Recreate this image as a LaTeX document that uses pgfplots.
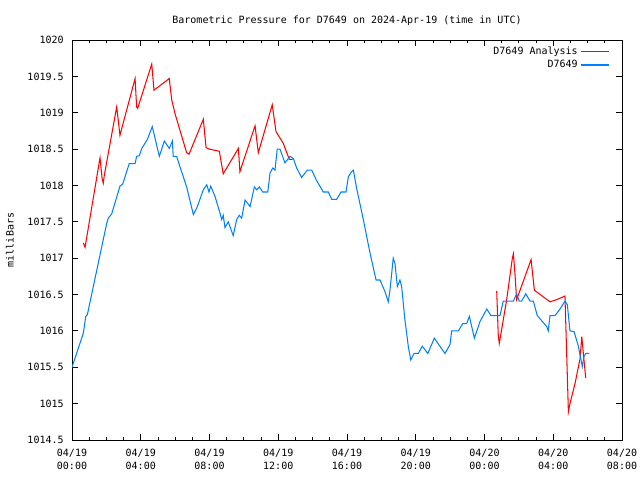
\documentclass[border=0pt]{standalone}
\usepackage{fontspec}
\setmainfont{DejaVu Sans Mono}
\usepackage{pgfplots}
\pgfplotsset{compat=1.18}
\definecolor{gpred}{RGB}{255,0,0}
\definecolor{gpblue}{RGB}{0,128,255}
\begin{document}
\begin{tikzpicture}
\begin{axis}[
  scale only axis,
  width=396pt, height=288pt,
  xmin=0, xmax=32, ymin=1014.5, ymax=1020,
  xtick={0,4,...,32},
  xticklabels={04/19\\00:00,04/19\\04:00,04/19\\08:00,04/19\\12:00,04/19\\16:00,04/19\\20:00,04/20\\00:00,04/20\\04:00,04/20\\08:00},
  minor x tick num=3,
  ytick={1014.5,1015,1015.5,1016,1016.5,1017,1017.5,1018,1018.5,1019,1019.5,1020},
  yticklabels={1014.5,1015,1015.5,1016,1016.5,1017,1017.5,1018,1018.5,1019,1019.5,1020},
  /pgf/number format/assume math mode=true,
  tick align=inside,
  major tick length=4.3pt,
  minor tick length=2.2pt,
  tick style={black, line width=0.6pt},
  axis line style={line width=0.7pt},
  every tick label/.append style={font=\fontsize{7.2}{9.7}\selectfont},
  xticklabel style={align=center, yshift=-3pt},
  yticklabel style={xshift=-2.5pt},
  every axis title shift=0pt,
  title={Barometric Pressure for D7649 on 2024-Apr-19 (time in UTC)},
  title style={font=\fontsize{7.2}{9}\selectfont, at={(axis description cs:0.5,1.04)}, anchor=base, yshift=0pt},
  ylabel={milliBars},
  ylabel style={font=\fontsize{7.2}{9}\selectfont, at={(axis description cs:-0.113,0.5)}, anchor=center},
  legend style={draw=none, fill=none, at={(axis description cs:0.985,0.997)}, anchor=north east,
    font=\fontsize{7.2}{9}\selectfont, row sep=-1.5pt},
  legend cell align=right,
  legend plot pos=right,
  unbounded coords=jump,
]
\addplot[color=gpred, line width=0.75pt,
  legend image code/.code={\draw[gpred, line width=0.75pt] (0pt,0pt) -- (20pt,0pt);}] coordinates {
(0.66,1017.21) (0.76,1017.15) (1.63,1018.38) (1.75,1018.10) (1.82,1018.03) (1.88,1018.14)
(2.60,1019.08) (2.69,1018.90) (2.79,1018.69) (3.67,1019.47) (3.76,1019.08) (3.82,1019.06)
(4.64,1019.67) (4.77,1019.31) (5.66,1019.47) (5.80,1019.18) (5.99,1018.99) (6.67,1018.45)
(6.81,1018.43) (7.64,1018.91) (7.80,1018.52) (7.99,1018.50) (8.57,1018.47) (8.80,1018.16)
(9.68,1018.51) (9.77,1018.19) (10.65,1018.82) (10.84,1018.45) (11.65,1019.11) (11.87,1018.74)
(12.29,1018.58) (12.64,1018.36) (12.84,1018.36)
(18,nan)
(24.71,1016.55) (24.80,1015.94) (24.86,1015.83) (24.94,1015.94) (25.29,1016.43) (25.62,1017.00)
(25.68,1017.06) (25.77,1016.79) (25.87,1016.43) (26.71,1016.98) (26.90,1016.56) (27.81,1016.40)
(28.20,1016.43) (28.68,1016.48) (28.78,1015.69) (28.88,1014.89) (28.97,1015.00) (29.27,1015.28)
(29.56,1015.62) (29.66,1015.92) (29.75,1015.69) (29.89,1015.35)
};
\addlegendentry{D7649 Analysis}
\addplot[color=gpblue, line width=0.75pt,
  legend image code/.code={\draw[gpblue, line width=0.75pt] (0pt,0pt) -- (20pt,0pt);}] coordinates {
(0.00,1015.50) (0.66,1015.97) (0.80,1016.20) (0.89,1016.22) (2.02,1017.48) (2.11,1017.55)
(2.31,1017.61) (2.79,1017.99) (2.95,1018.02) (3.33,1018.30) (3.67,1018.30) (3.76,1018.40)
(3.92,1018.41) (4.06,1018.51) (4.38,1018.63) (4.67,1018.81) (4.83,1018.65) (5.08,1018.40)
(5.37,1018.61) (5.66,1018.51) (5.84,1018.61) (5.89,1018.40) (6.09,1018.40) (6.28,1018.26)
(6.67,1017.98) (7.06,1017.60) (7.26,1017.69) (7.64,1017.94) (7.84,1018.01) (7.97,1017.91)
(8.07,1017.99) (8.32,1017.85) (8.61,1017.62) (8.71,1017.53) (8.80,1017.59) (8.90,1017.42)
(9.09,1017.50) (9.38,1017.31) (9.58,1017.53) (9.73,1017.59) (9.87,1017.55) (10.07,1017.80)
(10.36,1017.71) (10.61,1017.98) (10.75,1017.94) (10.90,1017.98) (11.10,1017.91) (11.39,1017.91)
(11.52,1018.17) (11.68,1018.24) (11.81,1018.21) (11.94,1018.50) (12.10,1018.50) (12.39,1018.31)
(12.68,1018.40) (12.88,1018.37) (13.07,1018.24) (13.36,1018.11) (13.69,1018.21) (13.95,1018.21)
(14.20,1018.08) (14.62,1017.91) (14.91,1017.91) (15.11,1017.81) (15.40,1017.81) (15.65,1017.91)
(15.94,1017.91) (16.08,1018.12) (16.27,1018.19) (16.37,1018.21) (16.56,1017.96) (16.95,1017.53)
(17.34,1017.07) (17.69,1016.70) (17.92,1016.70) (18.21,1016.54) (18.40,1016.40) (18.50,1016.56)
(18.69,1017.00) (18.79,1016.93) (18.93,1016.61) (19.08,1016.70) (19.18,1016.61) (19.37,1016.15)
(19.57,1015.78) (19.71,1015.60) (19.90,1015.69) (20.15,1015.69) (20.38,1015.79) (20.70,1015.69)
(21.08,1015.90) (21.70,1015.69) (21.99,1015.81) (22.09,1016.00) (22.48,1016.00) (22.73,1016.10)
(22.96,1016.10) (23.12,1016.20) (23.41,1015.90) (23.74,1016.13) (24.13,1016.30) (24.38,1016.21)
(24.90,1016.21) (25.09,1016.41) (25.68,1016.41) (25.87,1016.51) (26.02,1016.41) (26.16,1016.41)
(26.40,1016.51) (26.65,1016.41) (26.84,1016.41) (27.07,1016.21) (27.62,1016.06) (27.71,1016.00)
(27.81,1016.21) (28.10,1016.21) (28.39,1016.30) (28.68,1016.41) (28.82,1016.36) (28.97,1016.00)
(29.21,1015.99) (29.46,1015.79) (29.69,1015.51) (29.79,1015.65) (29.89,1015.69) (30.10,1015.69)
};
\addlegendentry{D7649}
\end{axis}
\pgfresetboundingbox
\useasboundingbox ([xshift=-51.84pt,yshift=-28.8pt]current axis.south west) rectangle ([xshift=12.96pt,yshift=28.8pt]current axis.north east);
\end{tikzpicture}
\end{document}
